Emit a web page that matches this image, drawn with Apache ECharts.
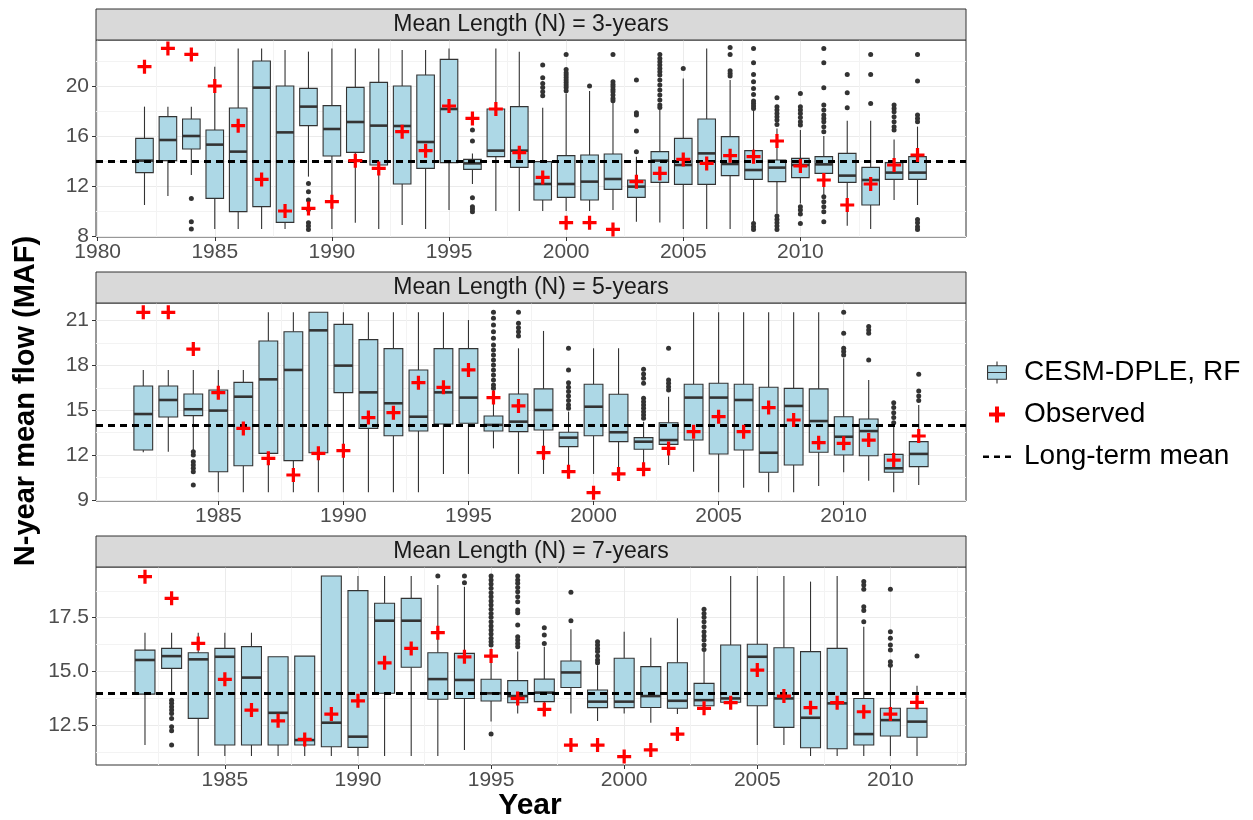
<!DOCTYPE html>
<html>
<head>
<meta charset="utf-8">
<title>N-year mean flow</title>
<script src="https://cdn.jsdelivr.net/npm/echarts@6/dist/echarts.min.js"></script>
<style>
  html, body { margin: 0; padding: 0; background: #fff; }
  #chart { width: 1253px; height: 820px; }
</style>
</head>
<body>
<div id="chart"></div>
<script>
// ---- data ----
const LONG_TERM_MEAN = 14;

// N = 3 years
const YEARS_3 = [1982, 1983, 1984, 1985, 1986, 1987, 1988, 1989, 1990, 1991, 1992, 1993, 1994, 1995, 1996, 1997, 1998,
  1999, 2000, 2001, 2002, 2003, 2004, 2005, 2006, 2007, 2008, 2009, 2010, 2011, 2012, 2013, 2014, 2015];
const LOW_3 = [10.48, 11.2, 12.88, 8.56, 8.56, 8.56, 8.56, 12.75, 8.56, 9.07, 8.56, 8.88, 8.56, 10.08, 12.16, 10.0, 10.0,
  10.0, 10.0, 10.0, 10.08, 9.15, 9.09, 8.56, 8.56, 8.56, 9.15, 9.81, 10.61, 11.28, 8.83, 8.56, 10.88, 10.48];
const Q1_3 = [13.07, 14.03, 14.96, 11.01, 9.95, 10.35, 9.09, 16.83, 14.4, 14.69, 13.68, 12.16, 13.41, 13.87, 13.33, 14.35, 13.49,
  10.88, 11.09, 10.88, 11.73, 11.09, 12.29, 12.13, 12.13, 12.83, 12.53, 12.35, 12.67, 13.01, 12.29, 10.48, 12.53, 12.53];
const MED_3 = [14.03, 15.68, 16.0, 15.31, 14.75, 19.87, 16.29, 18.35, 16.56, 17.12, 16.83, 16.8, 15.52, 18.16, 13.81, 14.83, 14.83,
  12.16, 12.16, 12.35, 12.56, 11.95, 14.03, 13.68, 14.61, 13.76, 13.28, 13.47, 13.68, 13.73, 12.83, 12.48, 13.07, 13.07];
const Q3_3 = [15.81, 17.55, 17.36, 16.48, 18.24, 22.0, 20.0, 19.81, 18.43, 19.89, 20.29, 20.0, 20.88, 22.13, 14.13, 18.16, 18.35,
  13.95, 14.43, 14.48, 14.56, 12.48, 14.75, 15.81, 17.36, 15.95, 14.83, 14.08, 14.21, 14.35, 14.61, 13.49, 13.87, 14.35];
const UP_3 = [18.35, 18.35, 18.35, 21.55, 23.01, 23.01, 22.88, 22.75, 23.01, 23.01, 23.01, 22.88, 22.88, 23.01, 14.6, 23.01, 22.75,
  18.27, 19.41, 19.6, 18.75, 14.35, 18.13, 20.61, 23.01, 20.48, 18.08, 16.61, 16.48, 16.0, 17.23, 17.23, 15.73, 16.75];
const OBS_3 = [21.55, 23.01, 22.53, 20.0, 16.83, 12.53, 10.0, 10.21, 10.75, 14.03, 13.41, 16.35, 14.83, 18.4, 17.41, 18.16, 14.67,
  12.69, 9.07, 9.07, 8.53, 12.35, 13.01, 14.13, 13.81, 14.43, 14.35, 15.6, 13.6, 12.48, 10.48, 12.16, 13.68, 14.48];
const OUT_3 = [[], [], [11.01, 9.15, 8.56], [], [], [], [], [12.21, 11.55, 10.88, 10.13, 9.07, 8.8, 8.53], [], [], [], [], [], [],
  [16.48, 15.6, 11.07, 10.35, 10.16, 9.95], [], [],
  [21.68, 20.67, 20.21, 19.89, 19.55, 19.23],
  [22.53, 21.33, 21.07, 20.88, 20.69, 20.48, 20.29, 20.08, 19.89, 19.63],
  [20.0],
  [22.53, 20.35, 20.13, 19.95, 19.73, 19.55, 19.28, 19.01, 18.83],
  [20.48, 17.87, 17.68, 16.4, 14.75],
  [22.53, 22.21, 21.95, 21.68, 21.41, 21.15, 20.88, 20.48, 20.08, 19.68, 19.28, 18.88, 18.48, 18.29],
  [21.41], [],
  [23.09, 22.53, 21.23, 21.01, 20.8],
  [23.01, 21.87, 20.93, 20.35, 19.81, 19.33, 18.8, 18.61, 18.4, 18.21, 9.01, 8.75, 8.53],
  [19.07, 18.35, 18.08, 17.81, 17.55, 17.28, 16.93, 9.6, 9.33, 9.07, 8.8, 8.53],
  [19.41, 18.35, 18.08, 17.81, 17.49, 17.15, 16.88, 10.35, 10.08, 9.76, 9.01],
  [23.01, 21.87, 19.87, 18.48, 18.08, 17.68, 17.41, 17.15, 16.75, 16.35, 11.15, 10.75, 10.35, 9.95, 9.15],
  [20.93, 19.47, 18.27],
  [22.53, 20.93, 18.61],
  [18.48, 18.21, 17.95, 17.55, 17.15, 16.75, 16.48],
  [22.53, 20.4, 17.68, 17.41, 17.15, 9.33, 9.07, 8.75, 8.53]];

// N = 5 years
const YEARS_5 = [1982, 1983, 1984, 1985, 1986, 1987, 1988, 1989, 1990, 1991, 1992, 1993, 1994, 1995, 1996, 1997,
  1998, 1999, 2000, 2001, 2002, 2003, 2004, 2005, 2006, 2007, 2008, 2009, 2010, 2011, 2012, 2013];
const LOW_5 = [12.19, 12.23, 12.34, 9.51, 9.51, 9.51, 9.51, 9.51, 9.51, 9.51, 9.51, 9.51, 10.74, 10.74, 12.45, 10.74,
  10.74, 10.89, 10.74, 10.74, 11.45, 11.34, 10.89, 9.51, 9.82, 9.51, 9.51, 9.93, 10.85, 10.29, 9.51, 10.0];
const Q1_5 = [12.34, 14.55, 14.64, 10.89, 11.29, 12.12, 11.63, 12.16, 16.18, 13.79, 13.3, 13.61, 14.08, 14.13, 13.61, 13.57,
  13.68, 12.57, 13.3, 12.9, 12.39, 12.72, 13.01, 12.08, 12.34, 10.85, 11.34, 12.19, 12.01, 11.96, 10.85, 11.23];
const MED_5 = [14.75, 15.69, 15.07, 14.98, 15.91, 17.07, 17.7, 20.35, 17.99, 16.2, 15.47, 14.57, 16.2, 15.85, 14.02, 14.24,
  15.02, 13.17, 15.24, 13.53, 12.9, 13.01, 15.85, 15.85, 15.69, 12.16, 15.29, 14.28, 13.23, 13.61, 11.12, 12.08];
const Q3_5 = [16.63, 16.63, 16.09, 16.36, 16.87, 19.64, 20.26, 21.56, 20.75, 19.73, 19.13, 17.7, 19.13, 19.13, 14.62, 16.09,
  16.43, 13.53, 16.74, 16.07, 13.17, 14.17, 16.74, 16.81, 16.74, 16.54, 16.47, 16.43, 14.57, 14.42, 12.05, 12.9];
const UP_5 = [17.7, 17.7, 17.7, 17.7, 17.7, 21.56, 21.56, 21.56, 21.56, 21.56, 21.56, 21.56, 21.56, 21.04, 16.36, 19.15,
  20.31, 14.91, 19.15, 19.15, 14.24, 15.9, 21.56, 21.56, 21.56, 21.56, 21.56, 21.56, 18.48, 17.03, 14.02, 15.36];
const OBS_5 = [21.56, 21.56, 19.1, 16.18, 13.79, 11.79, 10.67, 12.12, 12.3, 14.51, 14.84, 16.85, 16.54, 17.7, 15.85, 15.29,
  12.16, 10.89, 9.49, 10.74, 11.05, 12.45, 13.57, 14.57, 13.57, 15.18, 14.35, 12.83, 12.79, 13.01, 11.67, 13.28];
const OUT_5 = [[], [], [12.23, 12.0, 11.56, 11.34, 11.12, 10.89, 10.0], [], [], [], [], [], [], [], [], [], [], [],
  [21.56, 21.16, 20.71, 20.26, 19.82, 19.37, 19.04, 18.7, 18.37, 18.03, 17.7, 17.36, 17.03, 16.69, 16.47],
  [21.56, 20.82, 20.53, 20.26, 19.97],
  [],
  [19.15, 17.7, 16.85, 16.54, 16.25, 15.96, 15.65, 15.36, 15.13],
  [], [],
  [17.74, 17.43, 17.14, 16.81, 15.8, 15.58, 15.36, 15.13, 14.91, 14.69, 14.46],
  [19.15, 17.03, 16.81, 16.58, 16.36],
  [], [], [], [], [], [],
  [21.56, 20.15, 19.15, 18.93, 18.7],
  [20.6, 20.38, 20.15, 18.37],
  [15.51, 15.18, 14.84, 14.51, 14.17],
  [17.41, 16.29, 15.96, 15.65]];

// N = 7 years
const YEARS_7 = [1982, 1983, 1984, 1985, 1986, 1987, 1988, 1989, 1990, 1991, 1992, 1993, 1994, 1995, 1996,
  1997, 1998, 1999, 2000, 2001, 2002, 2003, 2004, 2005, 2006, 2007, 2008, 2009, 2010, 2011];
const LOW_7 = [11.57, 13.98, 11.06, 11.06, 11.06, 11.06, 11.06, 11.06, 11.06, 11.06, 11.06, 11.06, 11.34, 12.66, 13.04,
  13.04, 13.04, 12.69, 13.04, 12.61, 13.01, 13.07, 13.51, 11.57, 11.57, 11.06, 11.06, 11.06, 11.06, 11.06];
const Q1_7 = [13.94, 15.14, 12.81, 11.57, 11.57, 11.57, 11.57, 11.49, 11.46, 13.98, 15.19, 13.7, 13.74, 13.62, 13.54,
  13.59, 14.25, 13.31, 13.31, 13.32, 13.28, 13.4, 13.56, 13.4, 12.39, 11.44, 11.4, 11.57, 11.99, 11.93];
const MED_7 = [15.53, 15.71, 15.56, 15.68, 14.71, 13.07, 11.8, 12.61, 11.96, 17.36, 17.36, 14.64, 14.6, 13.98, 13.85,
  14.01, 14.95, 13.59, 13.59, 13.85, 13.63, 13.66, 13.74, 15.68, 13.74, 12.84, 13.51, 12.08, 12.73, 12.66];
const Q3_7 = [15.99, 16.07, 15.87, 16.07, 16.15, 15.68, 15.71, 19.44, 18.76, 18.17, 18.4, 15.87, 15.84, 14.63, 14.57,
  14.64, 15.48, 14.13, 15.61, 15.22, 15.4, 14.44, 16.23, 16.26, 16.1, 15.92, 16.07, 13.74, 13.28, 13.28];
const UP_7 = [16.8, 16.8, 16.8, 16.8, 16.8, 15.68, 15.71, 19.44, 19.44, 19.44, 19.44, 19.02, 18.94, 16.07, 15.92,
  16.15, 16.96, 15.29, 16.85, 16.57, 17.47, 15.92, 19.44, 19.44, 19.44, 19.18, 19.44, 17.08, 15.22, 14.33];
const OBS_7 = [19.41, 18.4, 16.3, 14.63, 13.2, 12.7, 11.83, 13.01, 13.63, 15.4, 16.07, 16.8, 15.68, 15.71, 13.74,
  13.23, 11.57, 11.57, 11.03, 11.34, 12.08, 13.28, 13.54, 15.06, 13.85, 13.31, 13.54, 13.12, 13.01, 13.56];
const OUT_7 = [[], [13.66, 13.51, 13.35, 13.2, 13.04, 12.81, 12.42, 12.24, 11.57], [], [], [], [], [], [], [], [], [],
  [19.44], [19.44, 19.13],
  [19.44, 19.25, 19.07, 18.87, 18.66, 18.48, 18.28, 18.09, 17.89, 17.7, 17.52, 17.31, 17.11, 16.93, 16.74, 16.54, 16.38, 16.23, 12.08],
  [19.44, 19.25, 19.1, 18.91, 18.71, 18.48, 18.24, 17.86, 17.73, 17.16, 16.61, 16.46, 16.3, 16.15],
  [17.03, 16.69, 16.3],
  [18.68, 17.36],
  [16.38, 16.23, 16.07, 15.92, 15.71, 15.53, 15.4],
  [], [], [],
  [17.89, 17.7, 17.52, 17.31, 17.08, 16.85, 16.65, 16.46, 16.23, 16.02],
  [], [], [], [], [],
  [19.18, 19.02, 18.82, 18.01, 17.83, 17.31],
  [18.82, 16.85, 16.54, 16.23, 16.0, 15.45, 15.29],
  [15.71]];

// axis ticks / labels
const X_TICKS_3 = [1980, 1985, 1990, 1995, 2000, 2005, 2010];
const X_TICKS_5 = [1985, 1990, 1995, 2000, 2005, 2010];
const X_TICKS_7 = [1985, 1990, 1995, 2000, 2005, 2010];
const Y_TICKS_3 = [8, 12, 16, 20];
const Y_TICKS_5 = [9, 12, 15, 18, 21];
const Y_TICKS_7 = [12.5, 15, 17.5];
const STRIP_TITLES = ['Mean Length (N) = 3-years', 'Mean Length (N) = 5-years', 'Mean Length (N) = 7-years'];
const SERIES_NAMES = ['CESM-DPLE, RF', 'Observed', 'Long-term mean'];

// ---- layout ----
const FONT = '"Liberation Sans", Arial, Helvetica, sans-serif';
const GRID_LEFT = 96;
const GRID_WIDTH = 870;
const GRID_TOPS = [40, 303, 567];
const GRID_HEIGHTS = [197, 198, 198];
const STRIP_H = 31;
const X_RANGES = [[1979.93, 2017.07], [1980.11, 2014.89], [1980.16, 2012.84]];
const Y_RANGES = [[7.92, 23.68], [8.93, 22.18], [10.64, 19.86]];
const Y_STEPS = [4, 3, 2.5];
const BOX_WIDTH = 0.75; // in years, like ggplot's default

const panels = [
  { years: YEARS_3, low: LOW_3, q1: Q1_3, med: MED_3, q3: Q3_3, up: UP_3, obs: OBS_3, out: OUT_3, xt: X_TICKS_3, yt: Y_TICKS_3, dec: 0 },
  { years: YEARS_5, low: LOW_5, q1: Q1_5, med: MED_5, q3: Q3_5, up: UP_5, obs: OBS_5, out: OUT_5, xt: X_TICKS_5, yt: Y_TICKS_5, dec: 0 },
  { years: YEARS_7, low: LOW_7, q1: Q1_7, med: MED_7, q3: Q3_7, up: UP_7, obs: OBS_7, out: OUT_7, xt: X_TICKS_7, yt: Y_TICKS_7, dec: 1 }
];

const chart = echarts.init(document.getElementById('chart'));

const renderBox = (params, api) => {
  const x = api.value(0);
  const pLow = api.coord([x, api.value(1)]);
  const pQ1 = api.coord([x, api.value(2)]);
  const pMed = api.coord([x, api.value(3)]);
  const pQ3 = api.coord([x, api.value(4)]);
  const pUp = api.coord([x, api.value(5)]);
  const w = api.size([BOX_WIDTH, 0])[0];
  const lineSt = { stroke: '#333', lineWidth: 1.1 };
  return {
    type: 'group',
    children: [
      { type: 'line', shape: { x1: pUp[0], y1: pUp[1], x2: pQ3[0], y2: pQ3[1] }, style: lineSt },
      { type: 'line', shape: { x1: pQ1[0], y1: pQ1[1], x2: pLow[0], y2: pLow[1] }, style: lineSt },
      { type: 'rect', shape: { x: pQ3[0] - w / 2, y: pQ3[1], width: w, height: pQ1[1] - pQ3[1] },
        style: { fill: '#ADD8E6', stroke: '#333', lineWidth: 1.1 } },
      { type: 'line', shape: { x1: pMed[0] - w / 2, y1: pMed[1], x2: pMed[0] + w / 2, y2: pMed[1] },
        style: { stroke: '#333', lineWidth: 2.6 } }
    ]
  };
};

const grids = [], xAxes = [], yAxes = [], series = [];

panels.forEach((p, i) => {
  grids.push({
    left: GRID_LEFT, top: GRID_TOPS[i], width: GRID_WIDTH, height: GRID_HEIGHTS[i],
    show: true, backgroundColor: '#fff', borderColor: '#333', borderWidth: 1
  });
  xAxes.push({
    type: 'value', gridIndex: i, min: X_RANGES[i][0], max: X_RANGES[i][1],
    minInterval: 5, maxInterval: 5,
    axisLine: { show: false },
    axisTick: { show: true, length: 4, customValues: p.xt, lineStyle: { color: '#333' } },
    axisLabel: { customValues: p.xt, fontSize: 21, color: '#4D4D4D', fontFamily: FONT, margin: 5,
      formatter: v => String(Math.round(v)) },
    splitLine: { show: true, lineStyle: { color: '#EBEBEB', width: 1 } },
    minorTick: { show: false, splitNumber: 2 },
    minorSplitLine: { show: true, lineStyle: { color: '#F3F3F3', width: 1 } }
  });
  yAxes.push({
    type: 'value', gridIndex: i, min: Y_RANGES[i][0], max: Y_RANGES[i][1],
    minInterval: Y_STEPS[i], maxInterval: Y_STEPS[i],
    axisLine: { show: false },
    axisTick: { show: true, length: 4, customValues: p.yt, lineStyle: { color: '#333' } },
    axisLabel: { customValues: p.yt, fontSize: 21, color: '#4D4D4D', fontFamily: FONT, margin: 7,
      formatter: v => v.toFixed(p.dec) },
    splitLine: { show: true, lineStyle: { color: '#EBEBEB', width: 1 } },
    minorTick: { show: false, splitNumber: 2 },
    minorSplitLine: { show: true, lineStyle: { color: '#F3F3F3', width: 1 } }
  });

  const boxRows = p.years.map((y, k) => [y, p.low[k], p.q1[k], p.med[k], p.q3[k], p.up[k]]);
  const outPts = [];
  p.years.forEach((y, k) => p.out[k].forEach(v => outPts.push([y, v])));
  const obsPts = p.years.map((y, k) => [y, p.obs[k]]);

  series.push({
    name: SERIES_NAMES[0], type: 'custom', xAxisIndex: i, yAxisIndex: i,
    renderItem: renderBox, data: boxRows, encode: { x: 0, y: [1, 2, 3, 4, 5] },
    itemStyle: { color: '#ADD8E6' }, clip: true, z: 2, silent: true
  });
  series.push({
    name: 'outliers', type: 'scatter', xAxisIndex: i, yAxisIndex: i,
    data: outPts, symbol: 'circle', symbolSize: 5,
    itemStyle: { color: '#333', opacity: 1 }, z: 3, silent: true
  });
  series.push({
    name: SERIES_NAMES[2], type: 'line', xAxisIndex: i, yAxisIndex: i, data: [],
    lineStyle: { color: '#000', width: 3, type: [7, 5] }, itemStyle: { color: '#000' },
    showSymbol: false, z: 5,
    markLine: {
      silent: true, symbol: ['none', 'none'], label: { show: false },
      lineStyle: { color: '#000', width: 3, type: [7, 5] },
      emphasis: { disabled: true },
      data: [{ yAxis: LONG_TERM_MEAN }]
    }
  });
  series.push({
    name: SERIES_NAMES[1], type: 'scatter', xAxisIndex: i, yAxisIndex: i,
    data: obsPts, symbol: 'path://M5,0h3v5h5v3h-5v5h-3v-5h-5v-3h5z', symbolSize: 14,
    itemStyle: { color: '#FF0000', opacity: 1 }, z: 10, silent: true
  });
});

// facet strips and axis titles
const graphics = [];
STRIP_TITLES.forEach((t, i) => {
  graphics.push({
    type: 'rect', z: 1,
    shape: { x: GRID_LEFT, y: GRID_TOPS[i] - STRIP_H, width: GRID_WIDTH, height: STRIP_H },
    style: { fill: '#D9D9D9', stroke: '#333', lineWidth: 1 }
  });
  graphics.push({
    type: 'text', z: 2, x: GRID_LEFT + GRID_WIDTH / 2, y: GRID_TOPS[i] - STRIP_H / 2,
    style: { text: t, fontSize: 23, fontFamily: FONT, fill: '#1A1A1A', align: 'center', verticalAlign: 'middle' }
  });
});
graphics.push({
  type: 'text', x: 26, y: 401, rotation: Math.PI / 2,
  style: { text: 'N-year mean flow (MAF)', fontSize: 29, fontWeight: 'bold', fontFamily: FONT, fill: '#000',
    align: 'center', verticalAlign: 'middle' }
});
graphics.push({
  type: 'text', x: 530, y: 806,
  style: { text: 'Year', fontSize: 30, fontWeight: 'bold', fontFamily: FONT, fill: '#000',
    align: 'center', verticalAlign: 'middle' }
});

const option = {
  animation: false,
  backgroundColor: '#fff',
  grid: grids,
  xAxis: xAxes,
  yAxis: yAxes,
  legend: {
    orient: 'vertical', left: 970, top: 352,
    itemWidth: 44, itemHeight: 22, itemGap: 11,
    selectedMode: false,
    textStyle: { fontSize: 28, color: '#000', fontFamily: FONT, lineHeight: 31 },
    data: [
      { name: SERIES_NAMES[0], icon: 'path://M9,0V4M0,4H18V17H0ZM0,10.5H18M9,17V21',
        itemStyle: { color: '#ADD8E6', borderColor: '#333', borderWidth: 1.1 } },
      { name: SERIES_NAMES[1], icon: 'path://M0,0M22,22M9,3h4v6h6v4h-6v6h-4v-6h-6v-4h6z',
        itemStyle: { color: '#FF0000', borderWidth: 0 } },
      { name: SERIES_NAMES[2], icon: 'path://M0,0M44,22M8,10h6v2.5h-6zM19,10h6v2.5h-6zM30,10h6v2.5h-6z',
        itemStyle: { color: '#000', borderWidth: 0 } }
    ]
  },
  graphic: graphics,
  series: series
};

chart.setOption(option);
</script>
</body>
</html>
